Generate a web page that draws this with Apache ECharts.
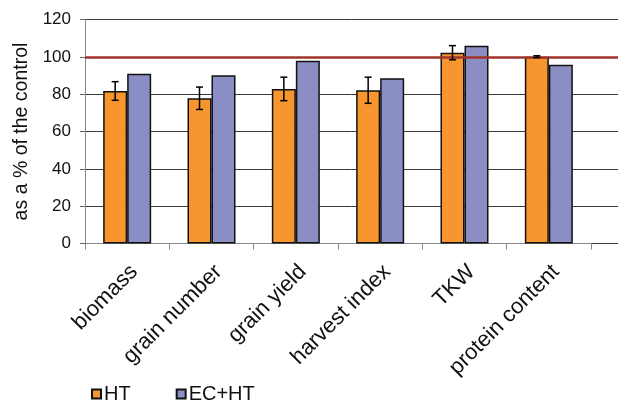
<!DOCTYPE html>
<html>
<head>
<meta charset="utf-8">
<script src="https://cdn.jsdelivr.net/npm/echarts@6/dist/echarts.min.js"></script>
<style>html,body{margin:0;padding:0;background:#fff}#c{width:618px;height:404px}</style>
</head>
<body>
<div id="c"></div>
<script>
var categories = ['biomass', 'grain number', 'grain yield', 'harvest index', 'TKW', 'protein content'];
var htValues = [81.7, 77.8, 82.8, 82.1, 102.2, 100.1];
var htErrors = [5, 6, 6.3, 7, 3.8, 0.5];
var echtValues = [91, 90.1, 97.9, 88.5, 106, 95.8];
var yTicks = [0, 20, 40, 60, 80, 100, 120];
var controlLevel = 100;

var BAR_W = 24;
var FONT = 'Liberation Sans, Arial, sans-serif';
var chart = echarts.init(document.getElementById('c'));

function errItem(params, api) {
  var idx = api.value(0);
  var v = api.value(1), e = api.value(2);
  var c = api.coord([idx, v]);
  var x = c[0] - BAR_W / 2;
  var top = api.coord([idx, v + e])[1];
  var bot = api.coord([idx, v - e])[1];
  var cap = 3.5;
  var st = {stroke: '#000', lineWidth: 1.5};
  return {type: 'group', children: [
    {type: 'line', shape: {x1: x, y1: top, x2: x, y2: bot}, style: st},
    {type: 'line', shape: {x1: x - cap, y1: top, x2: x + cap, y2: top}, style: st},
    {type: 'line', shape: {x1: x - cap, y1: bot, x2: x + cap, y2: bot}, style: st}
  ]};
}

chart.setOption({
  animation: false,
  backgroundColor: '#fff',
  textStyle: {fontFamily: FONT},
  legend: {
    data: ['HT', 'EC+HT'],
    left: 91, top: 384, padding: 0,
    icon: 'rect', itemWidth: 9, itemHeight: 9, itemGap: 45,
    textStyle: {fontSize: 20, color: '#111', fontFamily: FONT, padding: [0, 0, 0, -2]}
  },
  grid: [
    {left: 85, right: 27, top: 19.5, bottom: 160.5},
    {left: 85, right: 0, top: 19.5, bottom: 160.5}
  ],
  xAxis: [
    {
      type: 'category', data: categories, gridIndex: 0,
      axisLine: {lineStyle: {color: '#888', width: 1}},
      axisTick: {show: true, length: 6, lineStyle: {color: '#888'}},
      axisLabel: {rotate: 45, fontSize: 22, color: '#111', margin: 32, interval: 0,
        fontFamily: FONT, padding: [0, -10, 0, 0]}
    },
    {type: 'value', gridIndex: 1, min: 0, max: 1, show: false}
  ],
  yAxis: [
    {
      type: 'value', gridIndex: 0, min: 0, max: 120, interval: 20,
      name: 'as a % of the control', nameLocation: 'middle', nameGap: 53, nameRotate: 90,
      nameTextStyle: {fontSize: 19.5, color: '#111', fontFamily: FONT},
      axisLine: {show: true, lineStyle: {color: '#888'}},
      axisTick: {show: true, length: 5, inside: false, lineStyle: {color: '#666'}},
      axisLabel: {fontSize: 17, color: '#111', margin: 14, fontFamily: FONT,
        formatter: function (v) { return yTicks.indexOf(v) >= 0 ? String(v) : ''; }},
      splitLine: {show: false}
    },
    {
      type: 'value', gridIndex: 1, min: 0, max: 120, interval: 20,
      axisLine: {show: false}, axisTick: {show: false}, axisLabel: {show: false},
      splitLine: {show: true, lineStyle: {color: '#3a3a3a', width: 1}}
    }
  ],
  series: [
    {
      name: 'HT', type: 'bar', data: htValues, barWidth: BAR_W, barGap: '0%',
      itemStyle: {color: '#F7962F', borderColor: '#111', borderWidth: 1.5}, z: 3
    },
    {
      name: 'EC+HT', type: 'bar', data: echtValues, barWidth: BAR_W, barGap: '0%',
      itemStyle: {color: '#8B8EC4', borderColor: '#111', borderWidth: 1.5}, z: 3
    },
    {
      type: 'custom', renderItem: errItem, z: 5,
      data: categories.map(function (c, i) { return [i, htValues[i], htErrors[i]]; })
    },
    {
      type: 'line', xAxisIndex: 1, yAxisIndex: 1, data: [], z: 6,
      markLine: {silent: true, symbol: 'none', label: {show: false},
        lineStyle: {color: '#A0342A', width: 2.5, type: 'solid'},
        data: [{yAxis: controlLevel}]}
    }
  ]
});
</script>
</body>
</html>
